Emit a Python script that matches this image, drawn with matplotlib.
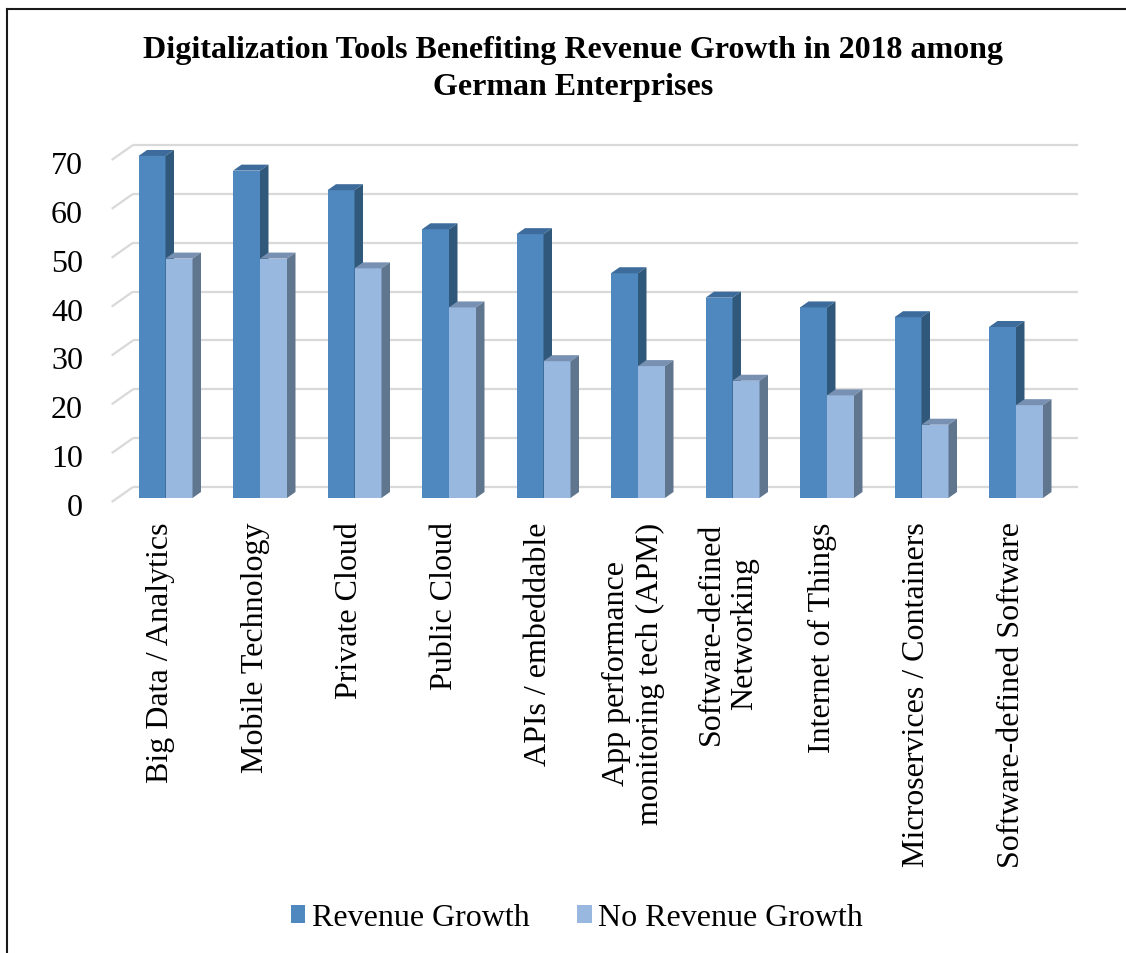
import numpy as np
import matplotlib
matplotlib.use('Agg')
import matplotlib.pyplot as plt
from matplotlib.patches import Polygon, Patch
from matplotlib.lines import Line2D

plt.rcParams['font.family'] = ['Liberation Serif', 'DejaVu Serif']

categories = ['Big Data / Analytics', 'Mobile Technology', 'Private Cloud',
              'Public Cloud', 'APIs / embeddable',
              'App performance\nmonitoring tech (APM)',
              'Software-defined\nNetworking', 'Internet of Things',
              'Microservices / Containers', 'Software-defined Software']
revenue_growth = [70, 67, 63, 55, 54, 46, 41, 39, 37, 35]
no_revenue_growth = [49, 49, 47, 39, 28, 27, 24, 21, 15, 19]
y_ticks = [0, 10, 20, 30, 40, 50, 60, 70]

W, H, DPI = 1126, 954, 100
# pixel scale of the plot: one category step and one value unit
PX_X = 94.5
PX_Y = 4.886
X0_PX, Y0_PX = 165.5, 499          # pixel position of category 0, value 0

ax_left, ax_right, ax_top, ax_bot = 108, 1085, 140, 510

fig = plt.figure(figsize=(W / DPI, H / DPI), dpi=DPI)
ax = fig.add_axes([ax_left / W, 1 - ax_bot / H,
                   (ax_right - ax_left) / W, (ax_bot - ax_top) / H])
ax.set_xlim((ax_left - X0_PX) / PX_X, (ax_right - X0_PX) / PX_X)
ax.set_ylim((Y0_PX - ax_bot) / PX_Y, (Y0_PX - ax_top) / PX_Y)
for s in ax.spines.values():
    s.set_visible(False)

def dx(px):
    return px / PX_X

def dy(px):
    return px / PX_Y

# back wall gridlines with the short floor-edge diagonals on the left
wall_x0, wall_x1 = dx(133 - X0_PX), dx(1078 - X0_PX)
front_x = dx(111.7 - X0_PX)
grid_c = '#D9D9D9'
for k in y_ticks:
    yb = k + dy(11.0)
    ax.plot([wall_x0, wall_x1], [yb, yb], color=grid_c, lw=1.6, zorder=1,
            solid_capstyle='butt')
    ax.plot([front_x, wall_x0], [k - dy(4.0), yb], color=grid_c, lw=1.6,
            zorder=1, solid_capstyle='butt')

bw = 27 / PX_X
ddx, ddy = dx(8.5), dy(6.0)

def bar3d(x0, v, front, top, side, z):
    ax.add_patch(Polygon([[x0, 0], [x0 + bw, 0], [x0 + bw, v], [x0, v]],
                         closed=True, facecolor=front, edgecolor='none', zorder=z))
    ax.add_patch(Polygon([[x0, v], [x0 + bw, v], [x0 + bw + ddx, v + ddy],
                          [x0 + ddx, v + ddy]],
                         closed=True, facecolor=top, edgecolor='none', zorder=z))
    ax.add_patch(Polygon([[x0 + bw, 0], [x0 + bw + ddx, ddy],
                          [x0 + bw + ddx, v + ddy], [x0 + bw, v]],
                         closed=True, facecolor=side, edgecolor='none', zorder=z))

rev_c = ('#4F88BE', '#3D6C9C', '#30587A')
norev_c = ('#98B8E0', '#7891B3', '#60768F')
for i, (r, n) in enumerate(zip(revenue_growth, no_revenue_growth)):
    bar3d(i - bw, r, *rev_c, z=2 + 2 * i)
    bar3d(i, n, *norev_c, z=3 + 2 * i)

ax.set_yticks([k - dy(6) for k in y_ticks], [str(k) for k in y_ticks])
ax.tick_params(axis='y', length=0, pad=18, labelsize=23)
ax.set_xticks([i - 0.05 for i in range(len(categories))], categories,
              rotation=90)
ax.tick_params(axis='x', length=0, pad=9, labelsize=23)
for lbl in ax.get_xticklabels():
    lbl.set_multialignment('center')

fig.text(573 / W, 1 - 69 / H,
         'Digitalization Tools Benefiting Revenue Growth in 2018 among\nGerman Enterprises',
         ha='center', va='center', fontsize=23, fontweight='bold',
         linespacing=1.38)

handles = [Patch(facecolor=rev_c[0], label='Revenue Growth'),
           Patch(facecolor=norev_c[0], label='No Revenue Growth')]
fig.legend(handles=handles, loc='center', bbox_to_anchor=(577 / W, 1 - 919 / H),
           ncol=2, frameon=False, fontsize=23, handlelength=0.45,
           handleheight=0.5, handletextpad=0.2, columnspacing=1.5)

# outer frame (left and top edges)
fig.add_artist(Line2D([7 / W, 7 / W], [0, 1 - 9.5 / H], color='#1a1a1a', lw=1.5,
                      transform=fig.transFigure))
fig.add_artist(Line2D([7 / W, 1], [1 - 9.5 / H, 1 - 9.5 / H], color='#1a1a1a',
                      lw=1.5, transform=fig.transFigure))

fig.savefig('out.png', dpi=DPI)
